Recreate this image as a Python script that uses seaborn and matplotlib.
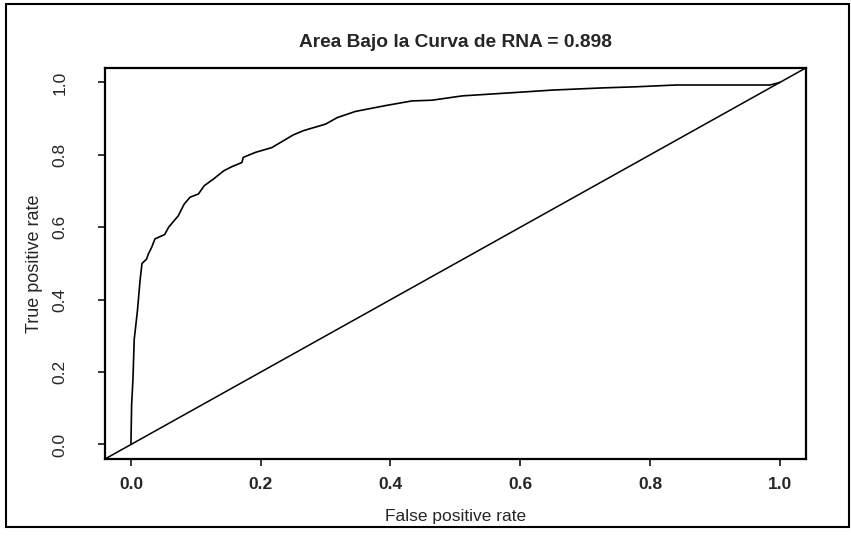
import numpy as np
import matplotlib
matplotlib.use("Agg")
import matplotlib.pyplot as plt
import seaborn as sns
from matplotlib.patches import Rectangle

# ROC curve
fpr = [0.0, 0.0, 0.001, 0.003, 0.005, 0.010, 0.014, 0.017, 0.024, 0.027,
       0.032, 0.037, 0.052, 0.058, 0.073, 0.082, 0.091, 0.104, 0.113, 0.127,
       0.143, 0.155, 0.171, 0.173, 0.192, 0.217, 0.235, 0.250, 0.266, 0.300,
       0.318, 0.346, 0.392, 0.433, 0.464, 0.511, 0.590, 0.650, 0.727, 0.778,
       0.840, 0.985, 1.0]
tpr = [0.0, 0.004, 0.11, 0.177, 0.29, 0.37, 0.453, 0.50, 0.512, 0.527,
       0.545, 0.568, 0.58, 0.60, 0.632, 0.664, 0.683, 0.692, 0.715, 0.733,
       0.756, 0.767, 0.779, 0.793, 0.807, 0.82, 0.839, 0.855, 0.867, 0.885,
       0.903, 0.92, 0.936, 0.949, 0.951, 0.963, 0.972, 0.979, 0.985, 0.988,
       0.993, 0.993, 1.0]
auc = 0.898
ticks = [0.0, 0.2, 0.4, 0.6, 0.8, 1.0]
tick_labels = ["0.0", "0.2", "0.4", "0.6", "0.8", "1.0"]

sns.set_style("ticks")
plt.rcParams['font.family'] = ['Liberation Sans', 'DejaVu Sans']
narrow = ['Liberation Sans Narrow', 'Liberation Sans', 'DejaVu Sans']

fig = plt.figure(figsize=(8.51, 5.37), dpi=100)
ax = fig.add_axes([0.1234, 0.1453, 0.8234, 0.7281])

sns.lineplot(x=fpr, y=tpr, sort=False, estimator=None, color="black", linewidth=1.2, ax=ax)
ax.axline((0, 0), (1, 1), color="black", linewidth=1.1)  # abline(0, 1)

ax.set_xlim(-0.04, 1.04)
ax.set_ylim(-0.04, 1.04)
ax.set_xticks(ticks)
ax.set_xticklabels(tick_labels, fontsize=12.5, fontweight="bold")
ax.set_yticks(ticks)
ax.set_yticklabels(tick_labels, fontsize=12.5, rotation=90, va="center", family=narrow)
ax.tick_params(axis="x", length=5, width=1.3, pad=8, direction="out")
ax.tick_params(axis="y", length=5, width=1.3, pad=22, direction="out")
for s in ax.spines.values():
    s.set_visible(True)
    s.set_linewidth(1.6)
    s.set_color("black")

ax.set_title(f"Area Bajo la Curva de RNA = {auc}", fontsize=13.8, fontweight="bold", pad=15)
ax.set_xlabel("False positive rate", fontsize=12.5)
ax.set_ylabel("True positive rate", fontsize=13, family=narrow)
ax.xaxis.set_label_coords(0.5, -0.128)
ax.yaxis.set_label_coords(-0.088, 0.5)

# border around the whole page
fig.patches.append(Rectangle((0.007, 0.018), 0.991, 0.974, transform=fig.transFigure,
                             fill=False, edgecolor="black", linewidth=1.5))

plt.savefig("out.png", dpi=100)
